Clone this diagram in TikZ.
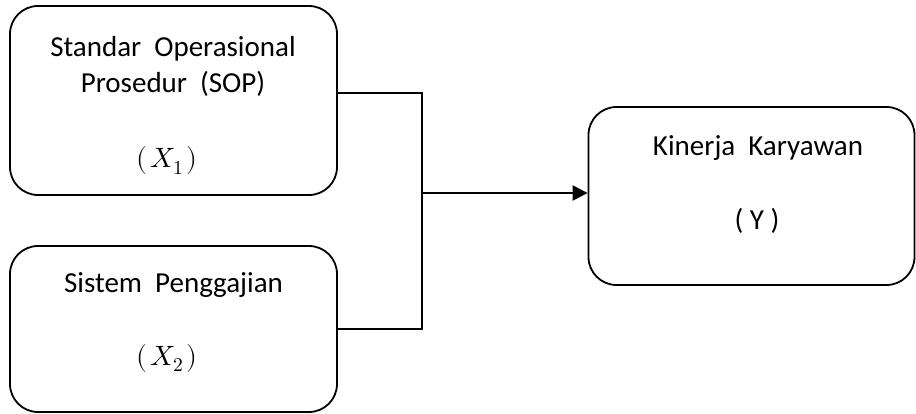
\documentclass[tikz,border=0pt]{standalone}
\usepackage{fontspec}
\usepackage{unicode-math}
\setmainfont{Carlito}
\setmathfont{Latin Modern Math}
\usetikzlibrary{arrows.meta}
\tikzset{
  box/.style={draw=black, line width=1.8pt, rounded corners=28pt, inner sep=0pt},
  lbl/.style={anchor=base, inner sep=0pt, font=\fontsize{29}{35}\selectfont},
  mlbl/.style={anchor=base, inner sep=0pt, font=\fontsize{28}{34}\selectfont},
  conn/.style={draw=black, line width=1.6pt},
}
\begin{document}
\begin{tikzpicture}[x=1pt, y=-1pt]
\useasboundingbox (0,0) rectangle (916,414);
% boxes
\node[box, minimum width=327pt, minimum height=189pt] (b1) at (173.5,100.5) {};
\node[box, minimum width=327pt, minimum height=166pt] (b2) at (173.5,329) {};
\node[box, minimum width=326pt, minimum height=178pt] (b3) at (751.5,196) {};
% labels
\node[lbl] (t1a) at (173,57) {Standar\hspace{0.45em}Operasional};
\node[lbl] (t1b) at (173,93) {Prosedur\hspace{0.45em}(SOP)};
\node[mlbl] (t1c) at (167,168) {$(\mkern2mu X_{\scriptstyle 1}\mkern2mu)$};
\node[mlbl] (t2b) at (167,365) {$(\mkern2mu X_{\scriptstyle 2}\mkern2mu)$};
\node[lbl] (t2a) at (173.5,293) {Sistem\hspace{0.45em}Penggajian};
\node[lbl] (t3a) at (758,156) {Kinerja\hspace{0.45em}Karyawan};
\node[lbl] (t3b) at (757,230) {( Y )};
% connectors
\coordinate (j1) at (422,93);
\coordinate (j2) at (422,329);
\coordinate (j3) at (422,193);
\draw[conn] (b1.east |- j1) -- (j1) -- (j2) -- (b2.east |- j2);
\draw[conn, line width=2.2pt, -{Triangle[length=15pt,width=15pt]}] (j3) -- (b3.west |- j3);
\end{tikzpicture}
\end{document}
